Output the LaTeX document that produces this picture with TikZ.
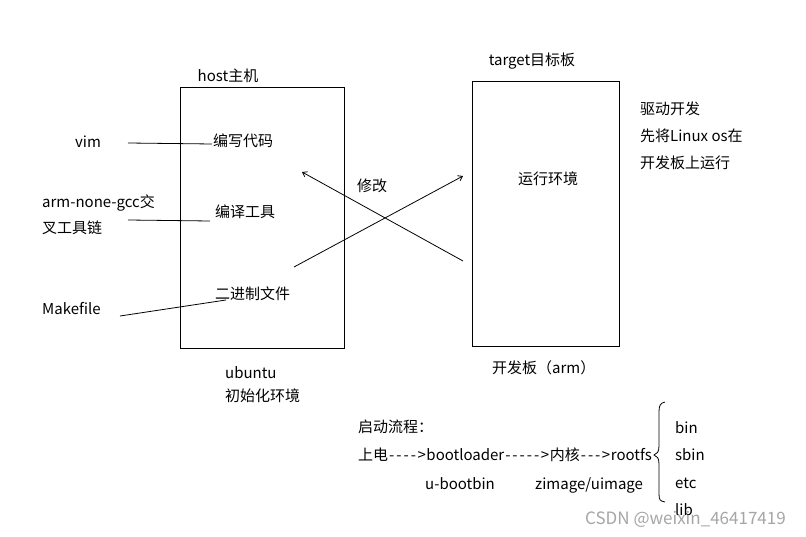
\documentclass[tikz,border=0pt]{standalone}
\usepackage{fontspec}
\setmainfont{Noto Sans CJK SC}
\usetikzlibrary{arrows.meta}
\newcommand\mydash{\makebox[7.2pt]{-}}
\newcommand\mygt{\makebox[9.5pt]{>}}
\begin{document}
\begin{tikzpicture}[x=1pt,y=-1pt,
  txt/.style={inner sep=0pt, text height=11pt, text depth=0pt, font=\fontsize{15}{18}\selectfont},
  lt/.style={txt, anchor=west},
  ct/.style={txt, anchor=center},
  box/.style={draw, line width=0.9pt, inner sep=0pt},
  ln/.style={line width=0.8pt},
  arr/.style={ln, -{Straight Barb[angle=70:5pt]}},
  wm/.style={lt, text=black!35, font=\fontsize{17}{20}\selectfont}
]
\useasboundingbox (0,0) rectangle (806,537);
\fill[white] (0,0) rectangle (806,537);

% boxes
\node[box, minimum width=164pt, minimum height=261pt] (host) at (262,217.5) {};
\node[box, minimum width=147pt, minimum height=265pt] (target) at (545.5,213.5) {};
\node[ct] (hostlbl) at (228,76) {host主机};
\node[ct] (tgtlbl) at (532,60) {target目标板};

% right notes
\node[lt] (n1) at (640,109) {驱动开发};
\node[lt] (n2) at (640,136) {先将Linux os在};
\node[lt] (n3) at (640,163) {开发板上运行};

% left items
\node[ct] (vim) at (88,142) {vim};
\node[lt] (code) at (213,141) {编写代码};
\node[lt] (gcc1) at (42,202) {arm-none-gcc交};
\node[lt] (gcc2) at (42,228) {叉工具链};
\node[lt] (comp) at (215,212) {编译工具};
\node[lt] (mk) at (42,309) {Makefile};
\node[lt] (bin) at (215,294) {二进制文件};

\coordinate (vimL) at (128,143);
\coordinate (codeL) at (212,144);
\coordinate (gccL) at (128,220);
\coordinate (compL) at (210,221);
\coordinate (mkL) at (120,316);
\coordinate (binL) at (226,300);
\draw[ln] (vimL) -- (codeL);
\draw[ln] (gccL) -- (compL);
\draw[ln] (mkL) -- (binL);

% cross arrows
\coordinate (a1s) at (294,267);
\coordinate (a1e) at (463,176);
\coordinate (a2s) at (463,261);
\coordinate (a2e) at (302,172);
\draw[arr] (a1s) -- (a1e);
\draw[arr] (a2s) -- (a2e);
\node[ct] (mod) at (372,186) {修改};
\node[ct] (run) at (548,179) {运行环境};

\node[lt] (arm) at (492,368) {开发板（arm）};
\node[lt] (ub1) at (225,373) {ubuntu};
\node[lt] (ub2) at (225,396) {初始化环境};

% boot flow
\node[lt] (boot0) at (358,427) {启动流程：};
\node[lt] (boot1) at (358,455) {上电\mydash\mydash\mydash\mydash\mygt bootloader\mydash\mydash\mydash\mydash\mydash\mygt 内核\mydash\mydash\mydash\mygt rootfs};
\node[lt] (boot2) at (425,484) {u-bootbin};
\node[lt] (boot3) at (535,484) {zimage/uimage};

% brace
\draw[ln] (665,402) .. controls (660,403) and (659,406) .. (659,412)
  -- (659,446) .. controls (659,452) and (657,454) .. (654,455)
  .. controls (657,456) and (659,458) .. (659,464)
  -- (659,494) .. controls (659,500) and (660,501) .. (665,502);

\node[lt] (d1) at (675,428) {bin};
\node[lt] (d2) at (675,455) {sbin};
\node[lt] (d3) at (675,483) {etc};
\node[lt] (d4) at (675,510) {lib};

\node[wm] (wmk) at (585,519) {CSDN @weixin\_46417419};
\end{tikzpicture}
\end{document}
